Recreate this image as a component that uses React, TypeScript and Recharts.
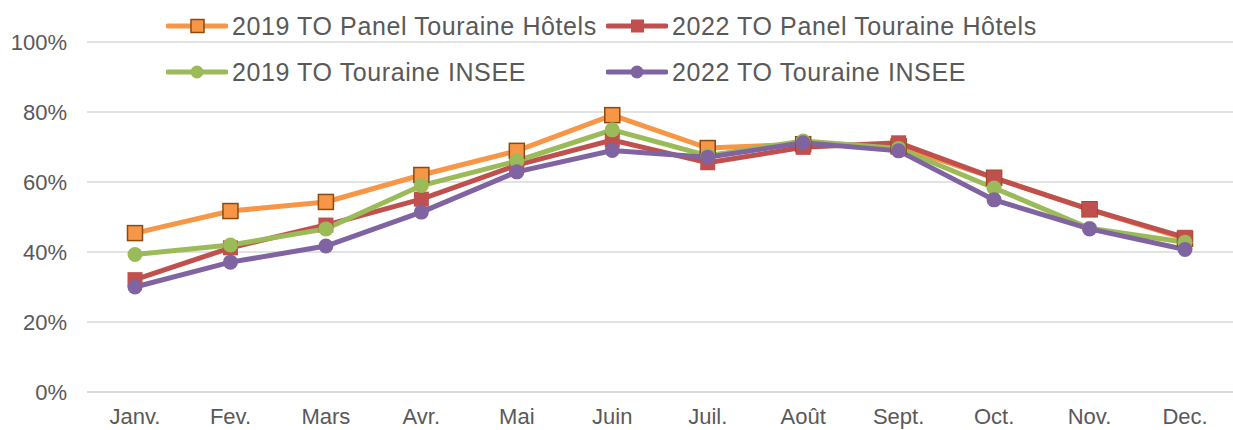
import React from "react";
import { LineChart, Line, XAxis, YAxis, CartesianGrid } from "recharts";

const months = ["Janv.", "Fev.", "Mars", "Avr.", "Mai", "Juin", "Juil.", "Août", "Sept.", "Oct.", "Nov.", "Dec."];
const panel2019 = [45.4, 51.7, 54.3, 62, 68.9, 79.1, 69.7, 70.8, 70.2, 61.2, 52.2, 43.8];
const panel2022 = [32.1, 41.2, 47.7, 55.1, 64.8, 72.0, 65.5, 69.9, 71.2, 61.2, 52.2, 44.2];
const insee2019 = [39.3, 42.0, 46.6, 59.0, 66.0, 74.9, 67.5, 71.7, 69.6, 58.3, 46.8, 42.8];
const insee2022 = [30.0, 37.1, 41.7, 51.4, 62.9, 69.0, 67.1, 71.2, 68.9, 54.9, 46.6, 40.7];
const yTicks = [0, 20, 40, 60, 80, 100];

const seriesDefs = [
  { key: "p19", name: "2019 TO Panel Touraine Hôtels", color: "#F79646", stroke: "#8A4A10", marker: "square", values: panel2019 },
  { key: "p22", name: "2022 TO Panel Touraine Hôtels", color: "#C0504D", stroke: "#C0504D", marker: "square", values: panel2022 },
  { key: "i19", name: "2019 TO Touraine INSEE", color: "#9BBB59", stroke: "#9BBB59", marker: "circle", values: insee2019 },
  { key: "i22", name: "2022 TO Touraine INSEE", color: "#8064A2", stroke: "#8064A2", marker: "circle", values: insee2022 },
];

const data = months.map((m, i) => {
  const row: any = { month: m };
  seriesDefs.forEach((s) => (row[s.key] = s.values[i]));
  return row;
});

const FONT = "'Liberation Sans', Arial, sans-serif";
const TEXT = "#595959";

function makeDot(s: any) {
  return (props: any) => {
    const { cx, cy, index } = props;
    if (cx == null || cy == null) return <g key={index} />;
    if (s.marker === "square") {
      return (
        <rect key={index} x={cx - 7.5} y={cy - 7.5} width={15} height={15} fill={s.color} stroke={s.stroke} strokeWidth={s.stroke === s.color ? 0 : 1.5} />
      );
    }
    return <circle key={index} cx={cx} cy={cy} r={7.5} fill={s.color} />;
  };
}

function LegendMarker({ s }: { s: any }) {
  return (
    <svg width={62} height={16} style={{ display: "block" }}>
      <line x1={2} y1={8} x2={60} y2={8} stroke={s.color} strokeWidth={5} strokeLinecap="round" />
      {s.marker === "square" ? (
        <rect x={25} y={1.5} width={13} height={13} fill={s.color} stroke={s.stroke} strokeWidth={s.stroke === s.color ? 0 : 1.5} />
      ) : (
        <circle cx={31} cy={8} r={6.5} fill={s.color} />
      )}
    </svg>
  );
}

const legendPos = [
  { left: 166, top: 26 },
  { left: 606, top: 26 },
  { left: 166, top: 72 },
  { left: 606, top: 72 },
];

export default function App() {
  return (
    <div style={{ position: "absolute", left: 0, top: 0, width: 1233, height: 430, background: "#fff", fontFamily: FONT }}>
      <LineChart width={1233} height={430} data={data} margin={{ top: 42, right: 0, left: 0, bottom: 0 }}>
        <CartesianGrid vertical={false} stroke="#D9D9D9" strokeWidth={1.5} />
        <XAxis
          dataKey="month"
          height={38}
          padding={{ left: 48, right: 48 }}
          tickLine={false}
          tickSize={0}
          tickMargin={16}
          axisLine={{ stroke: "#D9D9D9", strokeWidth: 1.5 }}
          tick={{ fontSize: 22, fill: TEXT, fontFamily: FONT }}
          interval={0}
        />
        <YAxis
          width={87}
          domain={[0, 100]}
          ticks={yTicks}
          tickFormatter={(v: number) => `${v}%`}
          axisLine={false}
          tickLine={false}
          tickSize={0}
          tickMargin={20}
          tick={{ fontSize: 22, fill: TEXT, fontFamily: FONT }}
        />
        {seriesDefs.map((s) => (
          <Line
            key={s.key}
            dataKey={s.key}
            name={s.name}
            stroke={s.color}
            strokeWidth={5}
            dot={makeDot(s)}
            activeDot={false}
            isAnimationActive={false}
          />
        ))}
      </LineChart>
      {seriesDefs.map((s, i) => (
        <div
          key={s.key}
          style={{
            position: "absolute",
            left: legendPos[i].left,
            top: legendPos[i].top - 14,
            height: 28,
            display: "flex",
            alignItems: "center",
            whiteSpace: "nowrap",
          }}
        >
          <LegendMarker s={s} />
          <span style={{ marginLeft: 4, fontSize: 25, letterSpacing: 0.6, color: TEXT, lineHeight: "28px" }}>{s.name}</span>
        </div>
      ))}
    </div>
  );
}
